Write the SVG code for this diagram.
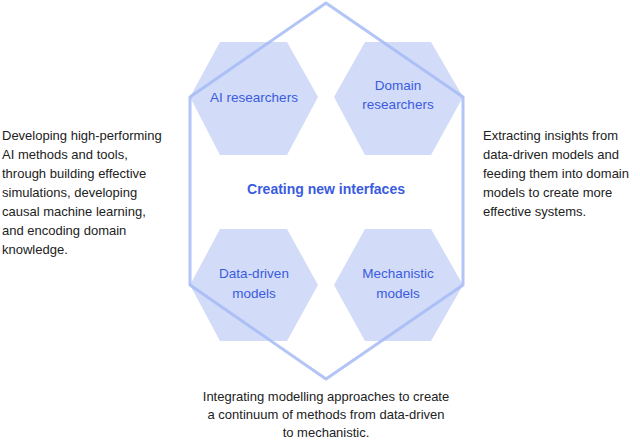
<svg xmlns="http://www.w3.org/2000/svg" width="640" height="441" viewBox="0 0 640 441">
<style>
.hex{fill:#d2dcf8}
.lbl{font-family:"Liberation Sans",Arial,sans-serif;font-size:13.5px;fill:#3a5be0;text-anchor:middle}
.side{font-family:"Liberation Sans",Arial,sans-serif;font-size:13px;fill:#222}
.title{font-family:"Liberation Sans",Arial,sans-serif;font-size:14px;font-weight:bold;fill:#3a5be0;text-anchor:middle}
</style>
<rect width="640" height="441" fill="#fff"/>
<g id="ai"><polygon class="hex" points="190,97 220,42 287,42 318,97 287,155 220,155"/><text class="lbl" x="254" y="102">AI researchers</text></g>
<g id="domain"><polygon class="hex" points="334,97 365,42 431,42 463,97 431,155 365,155"/><text class="lbl" x="398" y="90">Domain</text><text class="lbl" x="398" y="109">researchers</text></g>
<g id="data"><polygon class="hex" points="190,285 220,229 287,229 318,285 287,341 220,341"/><text class="lbl" x="254" y="278">Data-driven</text><text class="lbl" x="254" y="298">models</text></g>
<g id="mech"><polygon class="hex" points="334,285 365,229 431,229 463,285 431,341 365,341"/><text class="lbl" x="398" y="278">Mechanistic</text><text class="lbl" x="398" y="298">models</text></g>
<g id="connectors"><polygon points="326,3 463,97 463,285 326,379 190,285 190,97" fill="none" stroke="#a6bbf4" stroke-width="3" stroke-opacity="0.85" stroke-linejoin="round"/></g>
<g id="center"><text class="title" x="326" y="194">Creating new interfaces</text></g>
<g id="left"><text class="side"><tspan x="2" y="140">Developing high-performing</tspan><tspan x="2" y="159">AI methods and tools,</tspan><tspan x="2" y="178">through building effective</tspan><tspan x="2" y="197">simulations, developing</tspan><tspan x="2" y="216">causal machine learning,</tspan><tspan x="2" y="235">and encoding domain</tspan><tspan x="2" y="254">knowledge.</tspan></text></g>
<g id="right"><text class="side"><tspan x="483" y="140">Extracting insights from</tspan><tspan x="483" y="159">data-driven models and</tspan><tspan x="483" y="178">feeding them into domain</tspan><tspan x="483" y="197">models to create more</tspan><tspan x="483" y="216">effective systems.</tspan></text></g>
<g id="bottom"><text class="side" text-anchor="middle"><tspan x="326" y="401">Integrating modelling approaches to create</tspan><tspan x="326" y="419">a continuum of methods from data-driven</tspan><tspan x="326" y="437">to mechanistic.</tspan></text></g>
</svg>
